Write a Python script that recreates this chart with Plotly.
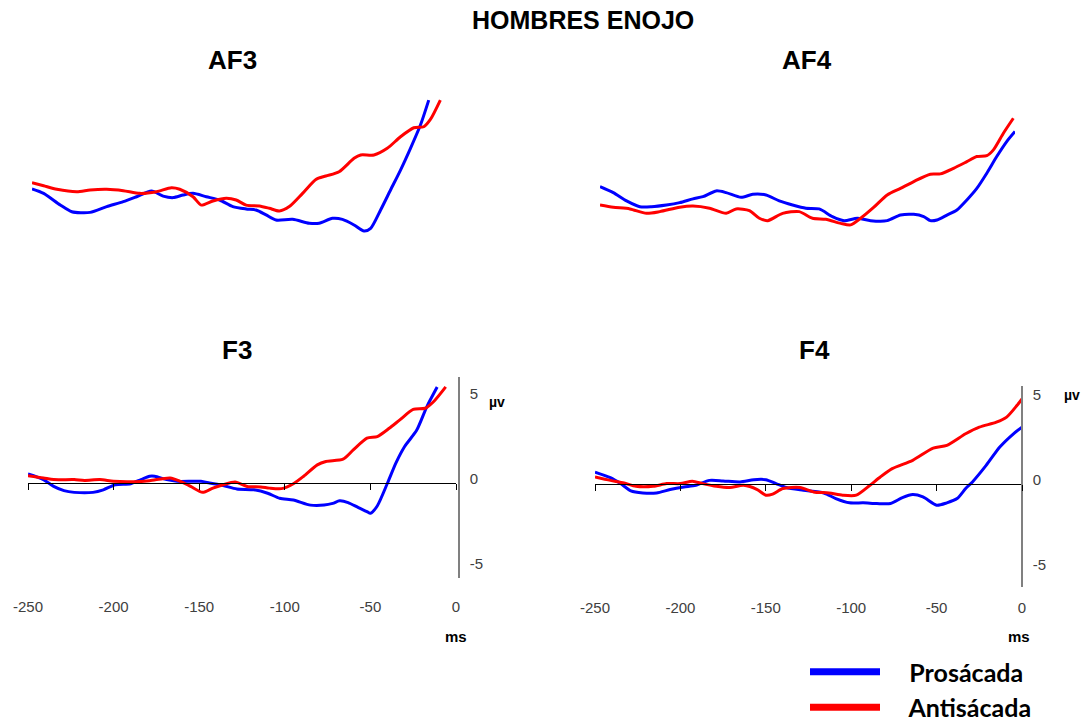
import plotly.graph_objects as go

W, H = 1085, 719

# ---------------- data (ms, µV) ----------------
af3_pro_ms = [-250, -243, -233, -226, -215, -205, -195, -187, -178, -171, -165, -159, -153, -145, -137, -129, -121, -115, -109, -103, -93, -83, -77, -69, -63, -56, -50, -46, -40, -34, -28, -22, -16, -11]
af3_pro_uv = [0.24, -0.02, -0.7, -1.1, -1.14, -0.8, -0.51, -0.22, 0.12, -0.18, -0.27, -0.12, -0.02, -0.22, -0.41, -0.8, -0.94, -1.0, -1.29, -1.59, -1.55, -1.78, -1.78, -1.49, -1.55, -1.88, -2.24, -2.08, -1.0, 0.18, 1.35, 2.63, 4.0, 5.47]
af3_anti_ms = [-250, -243, -235, -223, -215, -205, -195, -185, -175, -166, -161, -153, -148, -141, -133, -127, -121, -113, -107, -101, -95, -87, -79, -73, -65, -56, -52, -44, -36, -28, -20, -14, -10, -4]
af3_anti_uv = [0.61, 0.43, 0.22, 0.08, 0.18, 0.22, 0.14, -0.02, 0.08, 0.31, 0.22, -0.22, -0.71, -0.47, -0.31, -0.41, -0.71, -0.76, -0.9, -1.06, -0.8, -0.02, 0.8, 1.0, 1.25, 2.04, 2.24, 2.24, 2.63, 3.31, 3.84, 3.9, 4.33, 5.47]

af4_pro_ms = [-250, -242, -234, -226, -219, -210, -202, -194, -188, -180, -174, -165, -158, -150, -142, -134, -126, -118, -110, -103, -95, -87, -77, -69, -61, -55, -51, -47, -41, -35, -29, -23, -17, -11, -5, 0]
af4_pro_uv = [0.43, 0.08, -0.41, -0.75, -0.75, -0.65, -0.51, -0.29, -0.16, 0.18, 0.08, -0.2, -0.02, -0.06, -0.41, -0.65, -0.84, -0.88, -1.33, -1.57, -1.43, -1.57, -1.57, -1.24, -1.2, -1.33, -1.57, -1.53, -1.24, -0.94, -0.35, 0.33, 1.22, 2.2, 3.08, 3.67]
af4_anti_ms = [-250, -242, -232, -222, -214, -202, -194, -184, -174, -168, -160, -154, -149, -140, -130, -122, -114, -105, -99, -93, -85, -77, -69, -61, -51, -45, -37, -29, -23, -17, -13, -7, -1]
af4_anti_uv = [-0.65, -0.78, -0.88, -1.14, -1.04, -0.78, -0.71, -0.84, -1.14, -0.88, -0.98, -1.43, -1.57, -1.14, -1.04, -1.43, -1.49, -1.73, -1.82, -1.43, -0.78, -0.06, 0.33, 0.73, 1.16, 1.18, 1.51, 1.9, 2.2, 2.25, 2.59, 3.57, 4.45]

f3_pro_ms = [-250, -241, -235, -229, -223, -212, -206, -199, -190, -184, -179, -176, -169, -163, -149, -144, -136, -128, -118, -110, -103, -95, -85, -77, -72, -68, -63, -57, -52, -50, -46, -40, -35, -30, -23, -17, -11]
f3_pro_uv = [0.53, 0.2, -0.2, -0.45, -0.55, -0.55, -0.4, -0.1, -0.04, 0.2, 0.4, 0.4, 0.2, 0.1, 0.1, 0.0, -0.15, -0.35, -0.4, -0.6, -0.9, -1.0, -1.3, -1.3, -1.2, -1.05, -1.15, -1.45, -1.68, -1.78, -1.35, 0.0, 1.2, 2.15, 3.1, 4.5, 5.65]
f3_anti_ms = [-250, -241, -235, -223, -217, -208, -200, -188, -179, -167, -161, -155, -148, -142, -136, -129, -122, -114, -109, -102, -95, -89, -81, -76, -66, -60, -52, -46, -39, -33, -25, -18, -13, -6]
f3_anti_uv = [0.43, 0.3, 0.2, 0.2, 0.15, 0.2, 0.1, 0.08, 0.14, 0.3, 0.1, -0.2, -0.55, -0.3, -0.1, 0.06, -0.2, -0.23, -0.3, -0.33, -0.04, 0.4, 1.07, 1.27, 1.4, 1.95, 2.64, 2.73, 3.22, 3.7, 4.33, 4.4, 4.8, 5.66]

f4_pro_ms = [-250, -241, -235, -229, -222, -214, -206, -198, -191, -183, -175, -165, -157, -150, -144, -138, -128, -116, -109, -101, -93, -85, -77, -70, -64, -58, -50, -44, -38, -33, -29, -21, -13, -5, 0]
f4_pro_uv = [0.7, 0.37, 0.02, -0.41, -0.53, -0.53, -0.33, -0.18, -0.08, 0.21, 0.18, 0.12, 0.25, 0.25, 0.02, -0.21, -0.37, -0.53, -0.86, -1.11, -1.11, -1.15, -1.15, -0.8, -0.62, -0.76, -1.25, -1.11, -0.86, -0.27, 0.12, 1.09, 2.17, 2.95, 3.34]
f4_anti_ms = [-250, -241, -233, -226, -216, -208, -200, -193, -187, -179, -171, -163, -155, -150, -146, -140, -130, -122, -113, -105, -97, -89, -83, -76, -64, -52, -44, -33, -25, -15, -9, -3, 0]
f4_anti_uv = [0.41, 0.21, 0.06, -0.14, -0.14, 0.02, 0.02, 0.16, 0.02, -0.14, -0.21, -0.08, -0.33, -0.66, -0.6, -0.27, -0.21, -0.47, -0.53, -0.66, -0.66, -0.08, 0.41, 0.9, 1.39, 2.11, 2.27, 2.95, 3.34, 3.63, 3.93, 4.61, 5.0]

x_ticks = [-250, -200, -150, -100, -50, 0]
y_ticks = [-5, 0, 5]
panel_titles = ["AF3", "AF4", "F3", "F4"]
series_names = ["Prosácada", "Antisácada"]
colors = ["#0000FF", "#FF0000"]

# ---------------- layout helpers (pixel -> paper) ----------------
def fx(p):
    return p / W

def fy(p):
    return 1 - p / H

# panel geometry: x pixel domain, y pixel domain (top, bottom), y range
panels = [
    dict(xd=(32, 447), yd=(87, 288), yr=(-5.59, 6.24)),     # AF3
    dict(xd=(600, 1015), yd=(96, 297), yr=(-6.06, 5.76)),   # AF4
    dict(xd=(28, 456), yd=(377, 578), yr=(-5.59, 6.24)),    # F3
    dict(xd=(595, 1022), yd=(386, 587), yr=(-6.06, 5.76)),  # F4
]

data = [
    (af3_pro_ms, af3_pro_uv, af3_anti_ms, af3_anti_uv),
    (af4_pro_ms, af4_pro_uv, af4_anti_ms, af4_anti_uv),
    (f3_pro_ms, f3_pro_uv, f3_anti_ms, f3_anti_uv),
    (f4_pro_ms, f4_pro_uv, f4_anti_ms, f4_anti_uv),
]

fig = go.Figure()
tick_font = dict(family="Liberation Sans", size=15, color="#404040")

for i, (pms, puv, ams, auv) in enumerate(data):
    n = "" if i == 0 else str(i + 1)
    xa, ya = "x" + n, "y" + n
    fig.add_trace(go.Scatter(x=pms, y=puv, mode="lines", xaxis=xa, yaxis=ya,
                             line=dict(color=colors[0], width=3, shape="spline", smoothing=0.7),
                             showlegend=False, hoverinfo="skip"))
    fig.add_trace(go.Scatter(x=ams, y=auv, mode="lines", xaxis=xa, yaxis=ya,
                             line=dict(color=colors[1], width=3, shape="spline", smoothing=0.7),
                             showlegend=False, hoverinfo="skip"))

# legend-only entries (thicker line symbol); non-breaking spaces give the gap after the swatch
gap = "\u00a0" * 4
for name, c in zip(series_names, colors):
    fig.add_trace(go.Scatter(x=[None], y=[None], mode="lines", name=gap + name,
                             line=dict(color=c, width=7), xaxis="x", yaxis="y"))

layout = dict(
    width=W, height=H,
    margin=dict(l=0, r=0, t=0, b=0, pad=0, autoexpand=False),
    paper_bgcolor="white", plot_bgcolor="rgba(0,0,0,0)",
    showlegend=True,
    legend=dict(x=fx(805), y=fy(649), xanchor="left", yanchor="top",
                font=dict(family="Lato", size=25, color="black", weight="bold"),
                itemwidth=70, tracegroupgap=0, bgcolor="rgba(0,0,0,0)"),
)

for i, p in enumerate(panels):
    n = "" if i == 0 else str(i + 1)
    xkey, ykey = "xaxis" + n, "yaxis" + n
    ydom = [fy(p["yd"][1]), fy(p["yd"][0])]
    r0, r1 = p["yr"]
    zero_pos = ydom[0] + (0 - r0) / (r1 - r0) * (ydom[1] - ydom[0])
    if i < 2:
        layout[xkey] = dict(domain=[fx(p["xd"][0]), fx(p["xd"][1])], range=[-250, 0],
                            visible=False, anchor="y" + n, fixedrange=True)
        layout[ykey] = dict(domain=ydom, range=[r0, r1], visible=False,
                            anchor="x" + n, fixedrange=True)
    else:
        layout[xkey] = dict(domain=[fx(p["xd"][0]), fx(p["xd"][1])], range=[-250, 0],
                            anchor="free", position=zero_pos,
                            showline=True, linecolor="black", linewidth=1,
                            ticks="outside", ticklen=6, tickcolor="black", tickwidth=1,
                            tickvals=x_ticks, ticktext=[str(v) for v in x_ticks],
                            tickfont=tick_font, ticklabelstandoff=104,
                            showgrid=False, zeroline=False, fixedrange=True)
        ypos = fx(p["xd"][1] + (3 if i == 2 else 0))
        layout[ykey] = dict(domain=ydom, range=[r0, r1], anchor="free", position=ypos,
                            side="right", showline=True, linecolor="#808080", linewidth=1.5,
                            ticks="", tickvals=y_ticks, ticktext=[str(v) for v in y_ticks],
                            tickfont=tick_font, ticklabelstandoff=7, ticklabelshift=-4,
                            showgrid=False, zeroline=False, fixedrange=True)

fig.update_layout(**layout)

annotations = []

def ann(text, x, y, size, family="Liberation Sans", color="black"):
    annotations.append(dict(text=text, x=fx(x), y=fy(y), xref="paper", yref="paper",
                            showarrow=False, xanchor="center", yanchor="middle",
                            font=dict(family=family, size=size, color=color, weight="bold")))

ann("HOMBRES ENOJO", 583, 20, 25)
title_pos = [(232, 60), (807, 60), (237, 350), (814, 350)]
for t, (x, y) in zip(panel_titles, title_pos):
    ann(t, x, y, 26)
ann("µv", 497, 402, 14)
ann("µv", 1072, 395, 14)
ann("ms", 456, 636, 15)
ann("ms", 1019, 636, 15)

fig.update_layout(annotations=annotations)
fig.write_html("out.html", config={"displayModeBar": False},
               post_script="document.body.style.margin='0px';document.body.style.overflow='hidden';")
